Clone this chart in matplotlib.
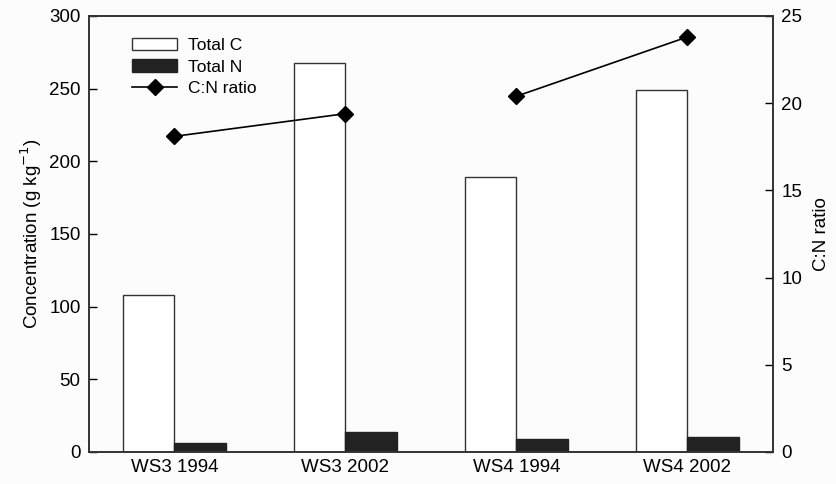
import matplotlib
matplotlib.use("Agg")
import matplotlib.pyplot as plt
import numpy as np

plt.rcParams['font.family'] = ['Liberation Sans', 'DejaVu Sans']

categories = ["WS3 1994", "WS3 2002", "WS4 1994", "WS4 2002"]
total_c = [108, 268, 189, 249]
total_n = [6.4, 14, 9, 10.3]
cn_ratio = [18.1, 19.4, 20.4, 23.8]
# line segments connect years within each watershed
groups = [[0, 1], [2, 3]]

fig = plt.figure(figsize=(8.37, 4.84), dpi=100, facecolor='#fcfcfc')
ax = fig.add_axes([89/837, 1 - 452/484, (773-89)/837, (452-16)/484])
ax.set_facecolor('#fcfcfc')
x = np.arange(len(categories))
w = 0.3
ax.bar(x - w/2, total_c, w, color='white', edgecolor='#333333', linewidth=1.0, label='Total C')
ax.bar(x + w/2, total_n, w, color='#222222', edgecolor='#222222', linewidth=1.0, label='Total N')
ax.set_xlim(-0.5, 3.5)
ax.set_ylim(0, 300)
ax.set_yticks([0, 50, 100, 150, 200, 250, 300])
ax.set_xticks(x)
ax.set_xticklabels(categories)
ax.tick_params(axis='x', length=0, labelsize=13.5, pad=5)
ax.tick_params(axis='y', direction='in', length=6, labelsize=13.5, width=1.0, pad=6)
ax.set_ylabel('Concentration (g kg$^{-1}$)', fontsize=13.5, labelpad=4)
for s in ax.spines.values():
    s.set_linewidth(1.2)
    s.set_color('#333333')

ax2 = ax.twinx()
xa = np.array(x)
ca = np.array(cn_ratio)
for i, g in enumerate(groups):
    ax2.plot(xa[g], ca[g], color='black', linewidth=1.2, marker='D', markersize=8,
             label='C:N ratio' if i == 0 else None)
ax2.set_ylim(0, 25)
ax2.set_yticks([0, 5, 10, 15, 20, 25])
ax2.tick_params(axis='y', direction='in', length=6, labelsize=13.5, width=1.0, pad=6)
ax2.set_ylabel('C:N ratio', fontsize=13.5, labelpad=8)
for s in ax2.spines.values():
    s.set_linewidth(1.2)
    s.set_color('#333333')

h1, l1 = ax.get_legend_handles_labels()
h2, l2 = ax2.get_legend_handles_labels()
ax.legend(h1 + h2, l1 + l2, loc='upper left', bbox_to_anchor=(0.04, 0.985), frameon=False,
          fontsize=12.5, handlelength=2.6, handletextpad=0.6, labelspacing=0.35)

fig.savefig('out.png', dpi=100, facecolor=fig.get_facecolor())
